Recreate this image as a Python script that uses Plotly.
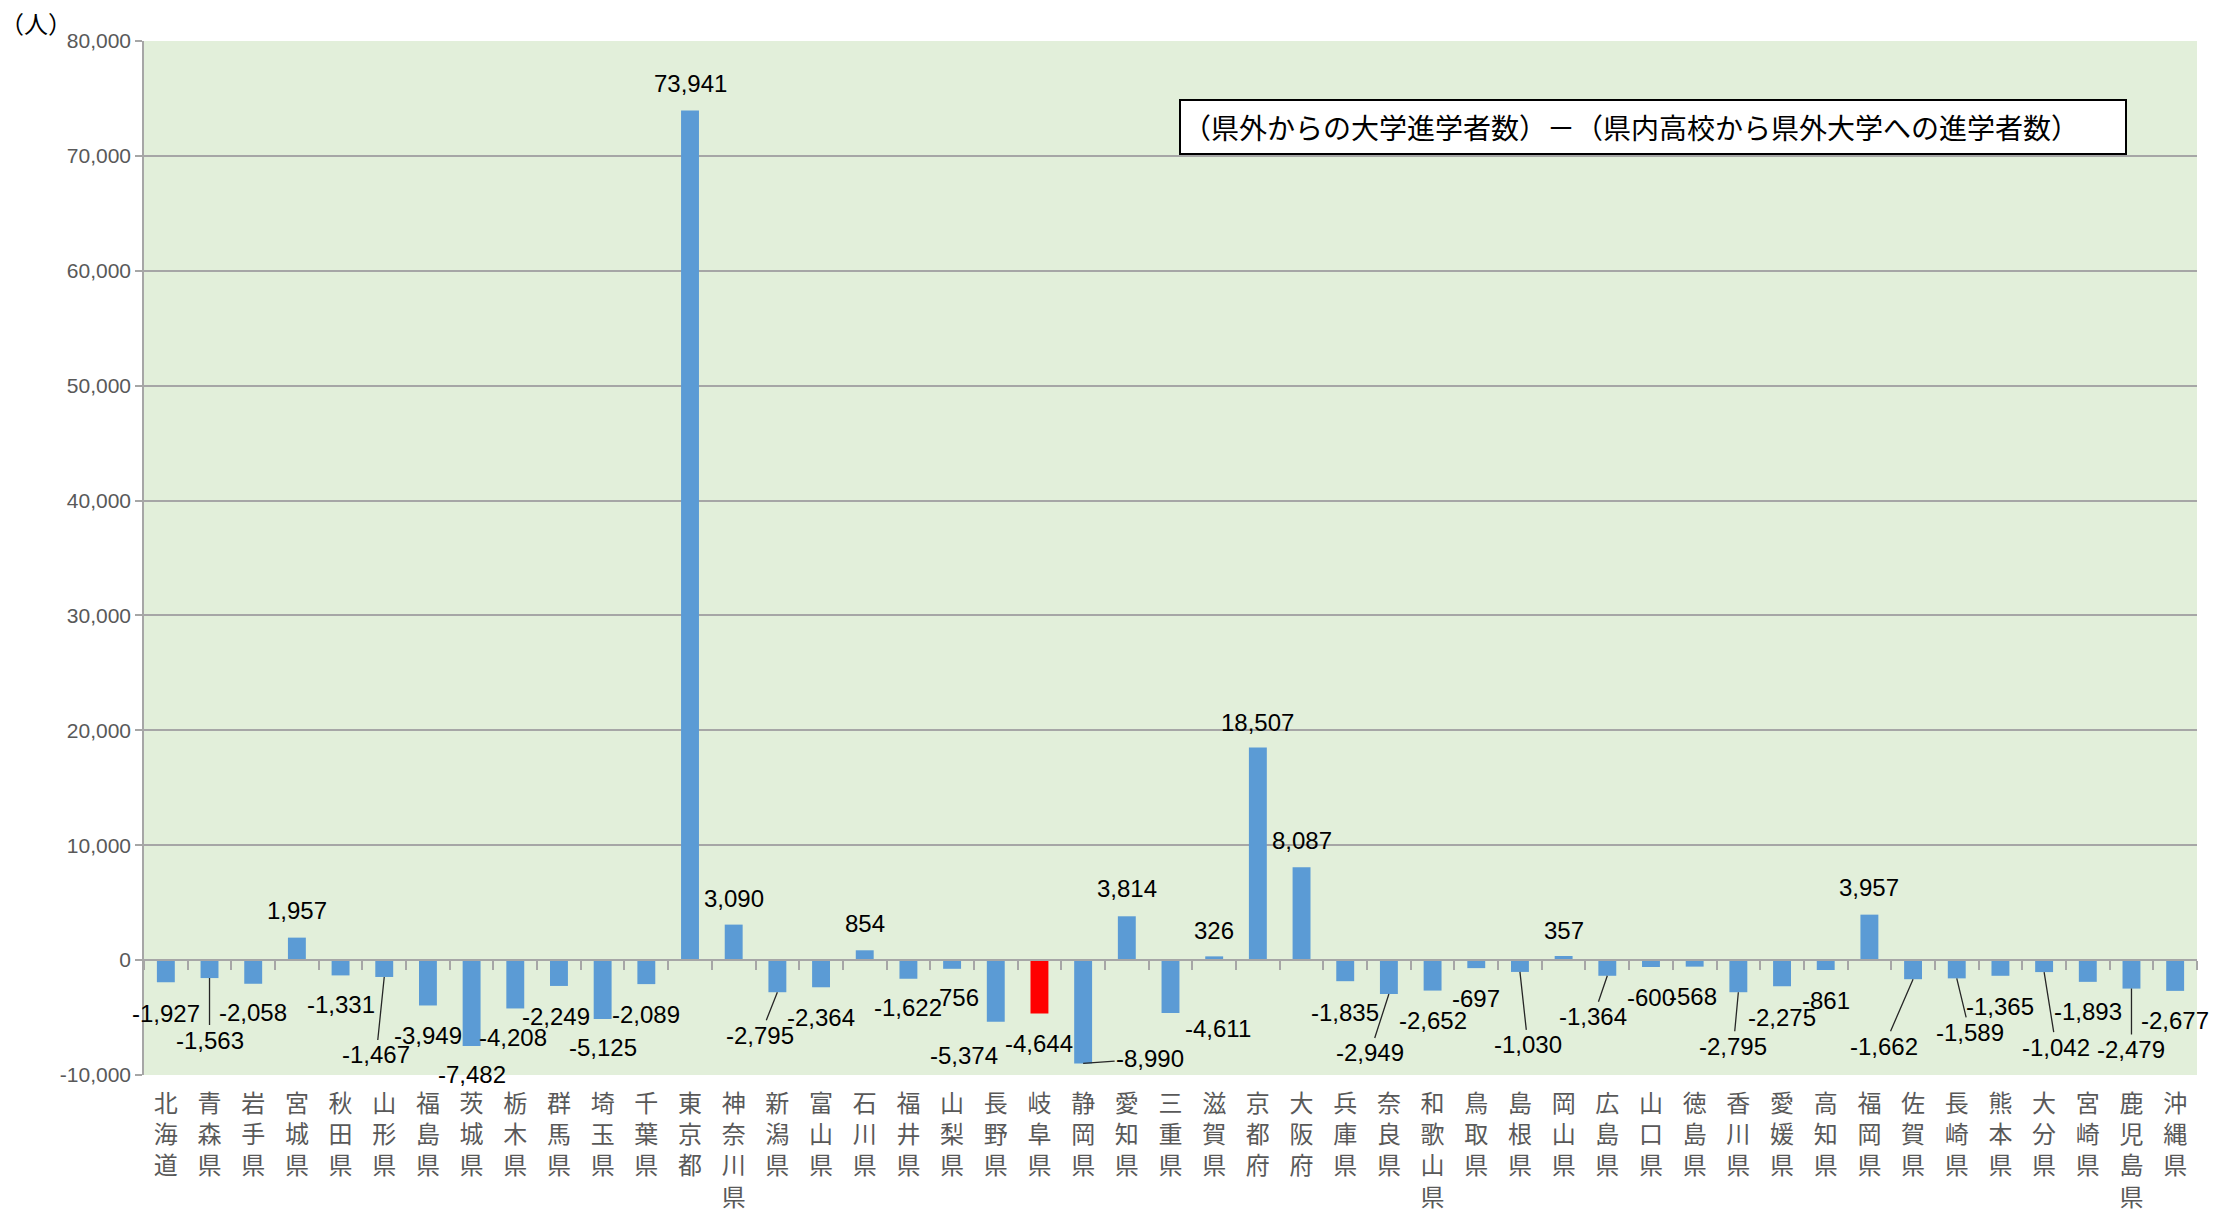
import plotly.graph_objects as go

# ---------------- data ----------------
prefectures = ["北海道", "青森県", "岩手県", "宮城県", "秋田県", "山形県", "福島県", "茨城県",
               "栃木県", "群馬県", "埼玉県", "千葉県", "東京都", "神奈川県", "新潟県", "富山県",
               "石川県", "福井県", "山梨県", "長野県", "岐阜県", "静岡県", "愛知県", "三重県",
               "滋賀県", "京都府", "大阪府", "兵庫県", "奈良県", "和歌山県", "鳥取県", "島根県",
               "岡山県", "広島県", "山口県", "徳島県", "香川県", "愛媛県", "高知県", "福岡県",
               "佐賀県", "長崎県", "熊本県", "大分県", "宮崎県", "鹿児島県", "沖縄県"]
values = [-1927, -1563, -2058, 1957, -1331, -1467, -3949, -7482,
          -4208, -2249, -5125, -2089, 73941, 3090, -2795, -2364,
          854, -1622, -756, -5374, -4644, -8990, 3814, -4611,
          326, 18507, 8087, -1835, -2949, -2652, -697, -1030,
          357, -1364, -600, -568, -2795, -2275, -861, 3957,
          -1662, -1589, -1365, -1042, -1893, -2479, -2677]
highlight = "岐阜県"
ytick_vals = [-10000, 0, 10000, 20000, 30000, 40000, 50000, 60000, 70000, 80000]
ytick_text = ["-10,000", "0", "10,000", "20,000", "30,000", "40,000", "50,000",
              "60,000", "70,000", "80,000"]
unit_label = "（人）"
box_title = "（県外からの大学進学者数）－（県内高校から県外大学への進学者数）"

# ---------------- label placement (style: pixel offsets from bar end) ----------------
label_dx = [0, 0, 0, 0, 0, -8, 0, 0,
            -2, -3, 0, 0, 0, 0, -17, 0,
            0, 0, 3, -32, 0, 67, 0, 47,
            0, 0, 0, 0, -19, 0, 0, 8,
            0, -14, 0, -2, -5, 0, 0, 0,
            -29, 13, 0, 12, 0, 0, 0]
label_dy = [31, 62, 29, -27, 29, 78, 30, 28,
            29, 31, 29, 30, -27, -26, 43, 30,
            -27, 29, 29, 34, 30, -5, -28, 15,
            -26, -25, -27, 31, 59, 30, 30, 73,
            -26, 41, 30, 30, 54, 31, 30, -27,
            67, 54, 31, 75, 30, 61, 30]
leader = [0, 1, 0, 0, 0, 1, 0, 0,
          0, 0, 0, 0, 0, 0, 1, 0,
          0, 0, 0, 0, 0, 1, 0, 0,
          0, 0, 0, 0, 1, 0, 0, 1,
          0, 1, 0, 0, 1, 0, 0, 0,
          1, 1, 0, 1, 0, 1, 0]

BLUE = "#5B9BD5"
RED = "#FF0000"
GRID = "#A6A6A6"
TXT = "#595959"
CJK = "Noto Sans CJK JP"
NUM = "Liberation Sans, Arial, sans-serif"

colors = [RED if p == highlight else BLUE for p in prefectures]
vertical_labels = ["<br>".join(list(p)) for p in prefectures]
ymin, ymax = ytick_vals[0], ytick_vals[-1]

fig = go.Figure()
fig.add_trace(go.Bar(x=prefectures, y=values, marker=dict(color=colors, line=dict(width=0)),
                     showlegend=False, hoverinfo="x+y"))
# helper trace for the category tick marks on the zero line
fig.add_trace(go.Scatter(x=prefectures, y=[0] * len(prefectures), xaxis="x2", mode="markers",
                         marker=dict(opacity=0), showlegend=False, hoverinfo="skip"))

annotations = []
for p, v, dx, dy, ld in zip(prefectures, values, label_dx, label_dy, leader):
    txt = f"{v:,}"
    if ld:
        annotations.append(dict(x=p, y=v, xref="x", yref="y", text=txt, showarrow=True,
                                arrowhead=0, arrowwidth=1.3, arrowcolor="#262626", standoff=0,
                                ax=dx, ay=dy, font=dict(family=NUM, size=24, color="#000000")))
    else:
        annotations.append(dict(x=p, y=v, xref="x", yref="y", text=txt, showarrow=False,
                                xshift=dx, yshift=-dy,
                                font=dict(family=NUM, size=24, color="#000000")))

annotations.append(dict(x=-0.0526, y=1.018, xref="paper", yref="paper", text=unit_label,
                        showarrow=False, xanchor="center", yanchor="middle",
                        font=dict(family=CJK, size=24, color="#000000")))
annotations.append(dict(x=0.5041, y=0.944, xref="paper", yref="paper", text=box_title,
                        showarrow=False, xanchor="left", yanchor="top", align="left",
                        width=940, height=48, borderpad=2, bordercolor="#000000",
                        borderwidth=2, bgcolor="#FFFFFF",
                        font=dict(family=CJK, size=28, color="#000000")))

fig.update_layout(
    width=2236, height=1215,
    margin=dict(l=144, r=39, t=41, b=140, autoexpand=False),
    plot_bgcolor="#E2EFDA", paper_bgcolor="#FFFFFF",
    bargap=0.59,
    showlegend=False,
    annotations=annotations,
    xaxis=dict(type="category", categoryorder="array", categoryarray=prefectures,
               range=[-0.5, len(prefectures) - 0.5], automargin=False,
               tickmode="array", tickvals=prefectures, ticktext=vertical_labels,
               tickfont=dict(family=CJK, size=24, color=TXT),
               ticks="", showgrid=False, showline=False, zeroline=False,
               tickangle=0, ticklabelstandoff=12),
    xaxis2=dict(type="category", categoryorder="array", categoryarray=prefectures,
                overlaying="x", anchor="free", position=(0 - ymin) / (ymax - ymin),
                side="bottom", range=[-0.5, len(prefectures) - 0.5], automargin=False,
                showticklabels=False, ticks="outside", ticklen=9, tickwidth=1.5,
                tickcolor=GRID, tickson="boundaries", showline=True, linecolor=GRID,
                linewidth=1.5, showgrid=False, zeroline=False),
    yaxis=dict(range=[ymin, ymax], tickmode="array", tickvals=ytick_vals, ticktext=ytick_text,
               automargin=False,
               showgrid=True, gridcolor=GRID, gridwidth=1.5,
               showline=True, linecolor=GRID, linewidth=1.5,
               ticks="outside", ticklen=7, tickwidth=1.5, tickcolor=GRID,
               tickfont=dict(family=NUM, size=21, color=TXT),
               zeroline=True, zerolinecolor=GRID, zerolinewidth=1.5),
)

fig.write_html("out.html", config={"displayModeBar": False},
               post_script="document.body.style.margin='0';")
